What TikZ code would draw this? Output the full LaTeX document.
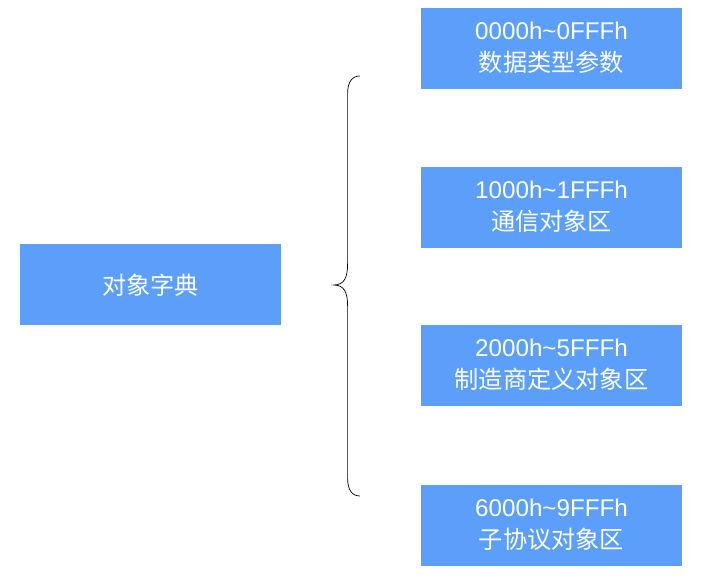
\documentclass[tikz,border=0pt]{standalone}
\usepackage{fontspec}
\setmainfont{Liberation Sans}
\newfontfamily\cjk{Noto Sans CJK SC}
\definecolor{boxblue}{HTML}{5B9FFB}
\tikzset{
  areabox/.style={fill=boxblue, text=white, minimum width=6.525cm, minimum height=2.025cm,
    inner sep=0pt, align=center, font=\fontsize{17.2}{22.6}\selectfont},
}

\begin{document}
\begin{tikzpicture}
        \useasboundingbox (0, 0) rectangle (17.625, 14.55);
        \node[areabox] (dict) at (3.763, 7.425) {\cjk 对象字典};
        \node[areabox] (a) at (13.788, 13.338) {0000h\textasciitilde0FFFh\\\cjk 数据类型参数\\[-20.6pt]};
        \node[areabox] (b) at (13.788, 9.363) {1000h\textasciitilde1FFFh\\\cjk 通信对象区\\[-20.6pt]};
        \node[areabox] (c) at (13.788, 5.413) {2000h\textasciitilde5FFFh\\\cjk 制造商定义对象区\\[-20.6pt]};
        \node[areabox] (d) at (13.788, 1.413) {6000h\textasciitilde9FFFh\\\cjk 子协议对象区\\[-20.6pt]};
        \coordinate (top) at (9, 12.65);
        \coordinate (tip) at (8.35, 7.425);
        \coordinate (bot) at (9, 2.15);
        \draw[line width=.5pt] (top) .. controls (8.8, 12.65) and (8.69, 12.5) .. (8.69, 12.2)
          -- (8.69, 7.95) .. controls (8.69, 7.6) and (8.6, 7.43) .. (tip)
          .. controls (8.6, 7.42) and (8.69, 7.25) .. (8.69, 6.9)
          -- (8.69, 2.6) .. controls (8.69, 2.3) and (8.8, 2.15) .. (bot);
      \end{tikzpicture}
\end{document}
